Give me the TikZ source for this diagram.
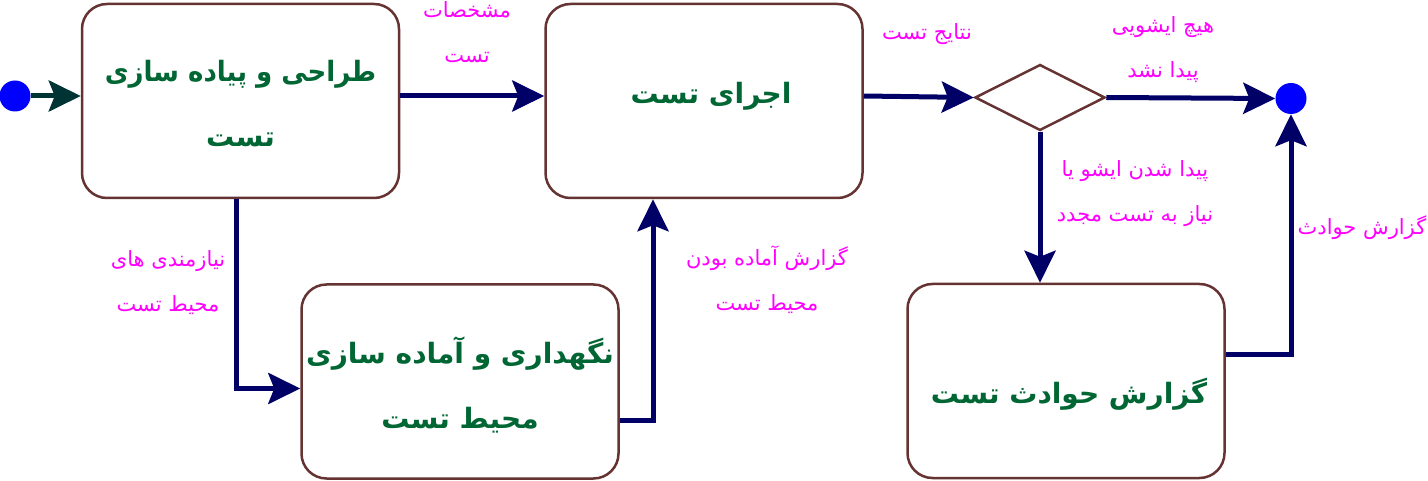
\documentclass[tikz,border=0pt]{standalone}
\usepackage{fontspec}
\usetikzlibrary{shapes.geometric,arrows.meta,calc}
\TeXXeTstate=1
\newfontfamily\arabicfont[Script=Arabic]{DejaVu Sans}
% a line of text with zero height and depth, its baseline raised by #1
\newcommand{\zl}[2]{\raisebox{#1}[0pt][0pt]{\arabicfont #2}}
\definecolor{boxbrown}{HTML}{663333}
\definecolor{txtgreen}{HTML}{006633}
\definecolor{navy}{HTML}{000066}
\definecolor{darkteal}{HTML}{003333}
\definecolor{mag}{HTML}{FF00FF}
\definecolor{dotblue}{HTML}{0000FF}
\tikzset{
  actbox/.style={draw=boxbrown, line width=2.5pt, rounded corners=25pt, fill=white,
    minimum width=317pt, minimum height=194pt, inner sep=0pt, align=center,
    text=txtgreen, font=\bfseries\fontsize{28}{65}\selectfont},
  decbox/.style={draw=boxbrown, line width=2.5pt, diamond, aspect=2, inner sep=0pt,
    minimum width=130pt, minimum height=66pt},
  dot/.style={circle, fill=dotblue, minimum size=31pt, inner sep=0pt},
  flow/.style={draw=navy, line width=5pt, -{Stealth[length=32pt,width=31pt,inset=6pt]}},
  lbl/.style={text=mag, font=\fontsize{21}{45}\selectfont, align=center, inner sep=0pt}
}
\begin{document}
\begin{tikzpicture}[x=1pt,y=-1pt]
\useasboundingbox (0,0) rectangle (1428,481);
\node[dot] (start) at (15,96) {};
\node[actbox] (b1) at (240.5,101) {\zl{-13.5pt}{\scalebox{0.93}[1]{\beginR طراحی و پیاده سازی\endR}}\\\zl{-13.5pt}{\beginR تست\endR}};
\node[actbox] (b2) at (704,101) {\hspace*{14pt}\zl{-3pt}{\beginR اجرای تست\endR}};
\node[actbox] (b3) at (460,381.5) {\zl{-14pt}{\beginR نگهداری و آماده سازی\endR}\\\zl{-14pt}{\beginR محیط تست\endR}};
\node[actbox] (b4) at (1066,381) {\hspace*{6pt}\zl{-22pt}{\beginR گزارش حوادث تست\endR}};
\node[decbox] (dia) at (1040,97.5) {};
\node[dot] (end) at (1291,98.5) {};

\draw[flow, draw=darkteal] (start.east) -- (start -| b1.west);
\draw[flow] ($(b1.east)+(0,-5)$) -- ($(b2.west)+(0,-5)$);
\draw[flow] ($(b2.east)+(0,-5)$) -- (dia.west);
\draw[flow] (dia.east) -- (end.west);
\draw[flow] (dia.south) -- (dia.south |- b4.north);
\draw[flow] ($(b4.east)+(0,-27)$) -| (end.south);
\draw[flow] ($(b1.south)+(-4,0)$) |- ($(b3.west)+(0,7)$);
\draw[flow] ($(b3.east)+(0,39)$) -| ($(b2.south)+(-51,0)$);

\node[lbl] (l1) at (467,40) {\zl{0pt}{\beginR مشخصات\endR}\\\zl{0pt}{\beginR تست\endR}};
\node[lbl] (l2) at (927,40) {\zl{0pt}{\beginR نتایج تست\endR}};
\node[lbl] (l3) at (1163,55.5) {\zl{0pt}{\beginR هیچ ایشویی\endR}\\\zl{0pt}{\beginR پیدا نشد\endR}};
\node[lbl] (l4) at (1135,199.5) {\zl{0pt}{\beginR پیدا شدن ایشو یا\endR}\\\zl{0pt}{\beginR نیاز به تست مجدد\endR}};
\node[lbl] (l5) at (1362,235) {\zl{0pt}{\beginR گزارش حوادث\endR}};
\node[lbl] (l6) at (168,289.5) {\zl{0pt}{\beginR نیازمندی های\endR}\\\zl{0pt}{\beginR محیط تست\endR}};
\node[lbl] (l7) at (767,288.5) {\zl{0pt}{\beginR گزارش آماده بودن\endR}\\\zl{0pt}{\beginR محیط تست\endR}};
\end{tikzpicture}
\end{document}
